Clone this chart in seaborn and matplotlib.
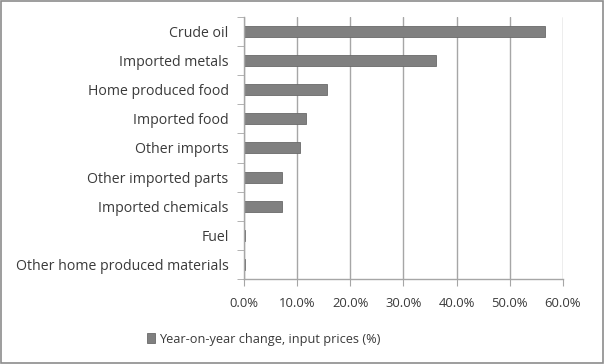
import matplotlib.pyplot as plt
import matplotlib.patches as mpatches
import pandas as pd
import seaborn as sns
from matplotlib.ticker import FuncFormatter, FixedLocator

# Data (year-on-year change, %)
categories = ['Crude oil', 'Imported metals', 'Home produced food', 'Imported food',
              'Other imports', 'Other imported parts', 'Imported chemicals', 'Fuel',
              'Other home produced materials']
values = [56.7, 36.2, 15.6, 11.6, 10.6, 7.1, 7.1, 0.25, 0.25]
series_label = 'Year-on-year change, input prices (%)'
x_ticks = [0, 10, 20, 30, 40, 50, 60]

df = pd.DataFrame({'category': categories, 'value': values})

sns.set_style('white')
plt.rcParams['font.family'] = ['Open Sans', 'DejaVu Sans']

fig = plt.figure(figsize=(6.04, 3.64), dpi=100)
ax = fig.add_axes([0.404, 0.234, 0.528, 0.719])

sns.barplot(data=df, x='value', y='category', orient='h', color='#808080',
            edgecolor='#6a6a6a', linewidth=0.6, width=0.38, saturation=1, ax=ax)

ax.set_xlim(0, 60)
ax.set_ylim(len(categories) - 0.5, -0.5)
ax.xaxis.set_major_locator(FixedLocator(x_ticks))
ax.xaxis.set_major_formatter(FuncFormatter(lambda v, p: f'{v:.1f}%'))
ax.grid(axis='x', color='#a6a6a6', linewidth=1)
ax.set_axisbelow(True)
ax.set_xlabel('')
ax.set_ylabel('')

for side in ['top', 'right']:
    ax.spines[side].set_visible(False)
for side in ['left', 'bottom']:
    ax.spines[side].set_color('#a6a6a6')
    ax.spines[side].set_linewidth(1)

# category boundary ticks on y axis, labels without tick marks
ax.yaxis.set_minor_locator(FixedLocator([i - 0.5 for i in range(len(categories) + 1)]))
ax.tick_params(axis='y', which='major', length=0, pad=11, labelsize=10.2, labelcolor='#3a3a3a')
ax.tick_params(axis='y', which='minor', length=5, color='#a6a6a6', left=True, direction='out')
ax.tick_params(axis='x', which='major', length=5, color='#a6a6a6', bottom=True,
               direction='out', pad=8, labelsize=9.4, labelcolor='#3a3a3a')

handle = mpatches.Patch(facecolor='#808080', edgecolor='#6a6a6a', linewidth=0.6)
fig.legend(handles=[handle], labels=[series_label], loc='center', bbox_to_anchor=(0.437, 0.068),
           frameon=False, fontsize=9.2, handlelength=0.6, handleheight=0.8, handletextpad=0.3,
           labelcolor='#3a3a3a')

# chart border
fig.patches.append(mpatches.Rectangle((0.001, 0.002), 0.997, 0.995, transform=fig.transFigure,
                                      fill=False, edgecolor='#8c8c8c', linewidth=1.2))

fig.savefig('out.png', dpi=100)
